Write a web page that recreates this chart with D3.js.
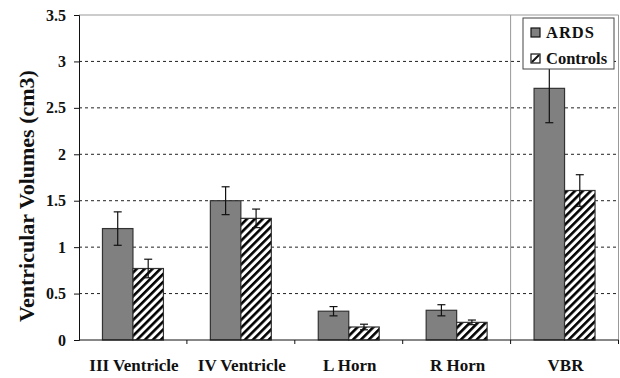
<!DOCTYPE html>
<html>
<head>
<meta charset="utf-8">
<script src="https://cdn.jsdelivr.net/npm/d3@7"></script>
<style>
  html, body { margin: 0; padding: 0; background: #fff; }
  svg { display: block; }
</style>
</head>
<body>
<svg id="chart" width="620" height="378"></svg>
<script>
// Ventricular volumes, ARDS vs controls (mean ± error)
const categories = ["III Ventricle", "IV Ventricle", "L Horn", "R Horn", "VBR"];
const series = ["ARDS", "Controls"];
const ardsValues = [1.2, 1.5, 0.31, 0.32, 2.71];
const ardsErrors = [0.18, 0.15, 0.05, 0.06, 0.37];
const controlValues = [0.77, 1.31, 0.14, 0.19, 1.61];
const controlErrors = [0.1, 0.1, 0.03, 0.025, 0.17];
const yTicks = [0, 0.5, 1, 1.5, 2, 2.5, 3, 3.5];
const yTitle = "Ventricular Volumes (cm3)";

const FONT = "'Liberation Serif', 'Times New Roman', serif";
const svg = d3.select("#chart");
const plotLeft = 79, plotRight = 618.5, plotTop = 15, plotBottom = 340;

const x0 = d3.scaleBand().domain(categories).range([plotLeft, plotRight]).paddingInner(0).paddingOuter(0);
const x1 = d3.scaleBand().domain(series).range([0, x0.bandwidth()]).paddingInner(0).paddingOuter(0.77);
const y = d3.scaleLinear().domain([0, 3.5]).range([plotBottom, plotTop]);

const rows = categories.map((c, i) => ({
  category: c,
  bars: [
    { key: "ARDS", value: ardsValues[i], err: ardsErrors[i] },
    { key: "Controls", value: controlValues[i], err: controlErrors[i] }
  ]
}));

// Diagonal hatching for the control bars
const defs = svg.append("defs");
defs.append("pattern")
  .attr("id", "hatch")
  .attr("patternUnits", "userSpaceOnUse")
  .attr("width", 5.6).attr("height", 5.6)
  .attr("patternTransform", "rotate(45)")
  .call(p => {
    p.append("rect").attr("width", 5.6).attr("height", 5.6).attr("fill", "#fff");
    p.append("line").attr("x1", 1.3).attr("y1", 0).attr("x2", 1.3).attr("y2", 5.6)
      .attr("stroke", "#000").attr("stroke-width", 2.6);
  });

const fillFor = k => k === "ARDS" ? "#808080" : "url(#hatch)";

// Dashed gridlines
svg.append("g")
  .selectAll("line")
  .data(yTicks.filter(t => t > 0 && t < 3.5))
  .join("line")
  .attr("x1", plotLeft).attr("x2", plotRight)
  .attr("y1", d => y(d)).attr("y2", d => y(d))
  .attr("stroke", "#222").attr("stroke-width", 1).attr("stroke-dasharray", "3,3");

// Plot frame (top, right) and separator before VBR
svg.append("line").attr("x1", plotLeft).attr("x2", plotRight).attr("y1", y(3.5)).attr("y2", y(3.5))
  .attr("stroke", "#999").attr("stroke-width", 1);
svg.append("line").attr("x1", plotRight).attr("x2", plotRight).attr("y1", y(3.5)).attr("y2", y(0))
  .attr("stroke", "#999").attr("stroke-width", 1);
svg.append("line").attr("x1", x0("VBR")).attr("x2", x0("VBR")).attr("y1", y(3.5)).attr("y2", y(0))
  .attr("stroke", "#999").attr("stroke-width", 1);

// Bars
const groups = svg.append("g").selectAll("g")
  .data(rows).join("g")
  .attr("transform", d => `translate(${x0(d.category)},0)`);

groups.selectAll("rect")
  .data(d => d.bars).join("rect")
  .attr("x", d => x1(d.key))
  .attr("y", d => y(d.value))
  .attr("width", x1.bandwidth())
  .attr("height", d => y(0) - y(d.value))
  .attr("fill", d => fillFor(d.key))
  .attr("stroke", "#333").attr("stroke-width", 1.2);

// Error bars
const cap = 4;
groups.selectAll("g.err")
  .data(d => d.bars).join("g").attr("class", "err")
  .each(function(d) {
    const g = d3.select(this);
    const cx = x1(d.key) + x1.bandwidth() / 2;
    const y1 = y(d.value + d.err), y2 = y(d.value - d.err);
    g.append("line").attr("x1", cx).attr("x2", cx).attr("y1", y1).attr("y2", y2);
    g.append("line").attr("x1", cx - cap).attr("x2", cx + cap).attr("y1", y1).attr("y2", y1);
    g.append("line").attr("x1", cx - cap).attr("x2", cx + cap).attr("y1", y2).attr("y2", y2);
  })
  .selectAll("line").attr("stroke", "#111").attr("stroke-width", 1.2);

// Y axis
const yAxis = svg.append("g")
  .attr("transform", `translate(${plotLeft},0)`)
  .call(d3.axisLeft(y).tickValues(yTicks).tickFormat(d3.format("~g")).tickSize(5).tickPadding(8));
yAxis.select(".domain").attr("stroke", "#111");
yAxis.selectAll(".tick line").attr("stroke", "#111");
yAxis.selectAll("text")
  .style("font-family", FONT).style("font-weight", "bold").style("font-size", "16px")
  .attr("fill", "#111");

// X axis: ticks at category boundaries
svg.append("line").attr("x1", plotLeft).attr("x2", plotRight).attr("y1", y(0)).attr("y2", y(0))
  .attr("stroke", "#111").attr("stroke-width", 1);
svg.append("g").selectAll("line")
  .data(categories.slice(1).concat(["__end"]))
  .join("line")
  .attr("x1", d => d === "__end" ? plotRight : x0(d))
  .attr("x2", d => d === "__end" ? plotRight : x0(d))
  .attr("y1", y(0)).attr("y2", y(0) + 4)
  .attr("stroke", "#111");

svg.append("g").selectAll("text")
  .data(categories).join("text")
  .attr("x", d => x0(d) + x0.bandwidth() / 2 + 1)
  .attr("y", 371)
  .attr("text-anchor", "middle")
  .attr("fill", "#111")
  .style("font-family", FONT).style("font-weight", "bold").style("font-size", "17px")
  .text(d => d);

// Y title
svg.append("text")
  .attr("transform", `translate(34,${(65 + 327) / 2}) rotate(-90)`)
  .attr("text-anchor", "middle")
  .attr("fill", "#111")
  .style("font-family", FONT).style("font-weight", "bold").style("font-size", "22px")
  .text(yTitle);

// Legend
const legend = svg.append("g").attr("transform", "translate(523,18)");
legend.append("rect").attr("width", 91).attr("height", 51)
  .attr("fill", "#fff").attr("stroke", "#444").attr("stroke-width", 1);
series.forEach((s, i) => {
  const row = legend.append("g").attr("transform", `translate(8,${10 + i * 26})`);
  row.append("rect").attr("width", 9).attr("height", 9)
    .attr("fill", s === "ARDS" ? "#808080" : "#fff")
    .attr("stroke", "#111").attr("stroke-width", 1.2);
  if (s !== "ARDS") {
    row.append("line").attr("x1", 1).attr("y1", 8).attr("x2", 8).attr("y2", 1)
      .attr("stroke", "#111").attr("stroke-width", 2);
  }
  row.append("text").attr("x", 15).attr("y", 9.5)
    .attr("fill", "#111")
    .style("font-family", FONT).style("font-weight", "bold").style("font-size", "16.5px")
    .style("letter-spacing", s === "ARDS" ? "1px" : "0px")
    .text(s);
});
</script>
</body>
</html>
